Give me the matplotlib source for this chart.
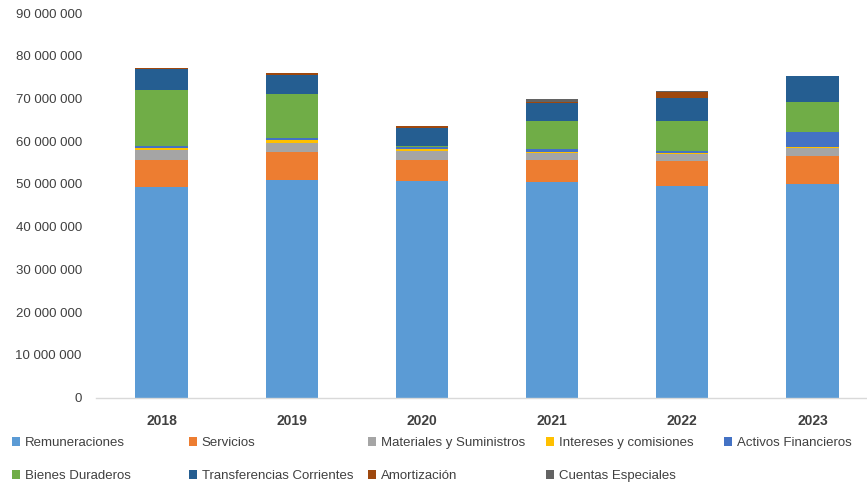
import matplotlib.pyplot as plt
import numpy as np
from matplotlib.patches import Patch
from matplotlib.ticker import FuncFormatter

# data (values in millions)
years = ["2018", "2019", "2020", "2021", "2022", "2023"]
remuneraciones = [49.3, 51.0, 50.6, 50.4, 49.5, 50.0]
servicios = [6.4, 6.5, 5.1, 5.3, 5.8, 6.5]
materiales = [2.3, 2.0, 1.95, 1.5, 1.65, 1.95]
intereses = [0.5, 0.7, 0.55, 0.25, 0.25, 0.1]
activos = [0.4, 0.55, 0.35, 0.6, 0.45, 3.6]
bienes = [13.05, 10.4, 0.4, 6.6, 7.05, 7.0]
transferencias = [4.9, 4.3, 4.1, 4.2, 5.45, 6.0]
amortizacion = [0.2, 0.4, 0.6, 0.3, 1.35, 0.0]
cuentas = [0.0, 0.0, 0.0, 0.8, 0.2, 0.0]

series = [
    ("Remuneraciones", remuneraciones, "#5B9BD5"),
    ("Servicios", servicios, "#ED7D31"),
    ("Materiales y Suministros", materiales, "#A5A5A5"),
    ("Intereses y comisiones", intereses, "#FFC000"),
    ("Activos Financieros", activos, "#4472C4"),
    ("Bienes Duraderos", bienes, "#70AD47"),
    ("Transferencias Corrientes", transferencias, "#255E91"),
    ("Amortización", amortizacion, "#9E480E"),
    ("Cuentas Especiales", cuentas, "#636363"),
]

plt.rcParams['font.family'] = ['Liberation Sans', 'DejaVu Sans']

W, H = 867, 487
fig = plt.figure(figsize=(W / 100, H / 100), dpi=100)
ax = fig.add_axes([96.4 / W, 1 - 397.5 / H, 781.2 / W, 384.5 / H])

x = np.arange(len(years))
bottom = np.zeros(len(years))
for name, vals, col in series:
    v = np.array(vals) * 1e6
    ax.bar(x, v, width=0.4, bottom=bottom, color=col, label=name, zorder=2)
    bottom += v

ax.set_xlim(-0.5, 5.5)
ax.set_ylim(0, 90e6)
ax.set_yticks(np.arange(0, 90e6 + 1, 10e6))
ax.yaxis.set_major_formatter(FuncFormatter(lambda v, p: f"{int(v):,}".replace(",", " ")))
ax.set_xticks(x)
ax.set_xticklabels(years, fontweight="bold")

for s in ["top", "right", "left"]:
    ax.spines[s].set_visible(False)
ax.spines["bottom"].set_color("#D9D9D9")
ax.spines["bottom"].set_linewidth(1.0)
ax.tick_params(axis="y", length=0, pad=10.5, labelsize=9.5, labelcolor="#404040")
ax.tick_params(axis="x", length=0, pad=12, labelsize=10, labelcolor="#404040")

# legend entries, placed like the Excel grid
leg_pos = [
    (12, 443), (189, 443), (368, 443), (546, 443), (724, 443),
    (12, 476), (189, 476), (368, 476), (546, 476),
]
for (name, vals, col), (lx, ly) in zip(series, leg_pos):
    fig.legend(handles=[Patch(facecolor=col, edgecolor="none")], labels=[name],
               loc="center left", bbox_to_anchor=(lx / W, 1 - ly / H),
               frameon=False, fontsize=9.5, handlelength=0.6, handleheight=0.6,
               handletextpad=0.36, borderpad=0, borderaxespad=0,
               labelcolor="#404040")

fig.savefig("out.png", dpi=100)
